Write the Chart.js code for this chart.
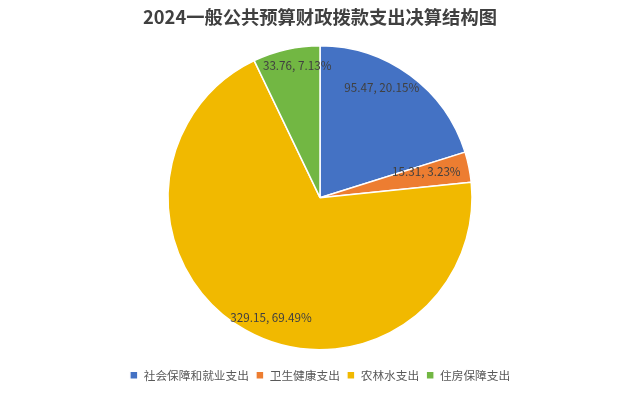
<!DOCTYPE html>
<html>
<head>
<meta charset="utf-8">
<script src="https://cdn.jsdelivr.net/npm/chart.js@4"></script>
<style>
  html,body{margin:0;padding:0;background:#fff;}
  #wrap{width:640px;height:394px;}
</style>
</head>
<body>
<div id="wrap"><canvas id="c"></canvas></div>
<script>
// ====== Data ======
const categories = ['社会保障和就业支出', '卫生健康支出', '农林水支出', '住房保障支出'];
const amounts = [95.47, 15.31, 329.15, 33.76];
const percents = ['20.15%', '3.23%', '69.49%', '7.13%'];
const colors = ['#4472C4', '#ED7D31', '#F1B900', '#72B743'];
// label placement: share of radius + angle nudge (deg, clockwise)
const labelRadius = [0.83, 0.72, 0.85, 0.88];
const labelNudge = [-7, -2, -7, 3];

const FONT = '"Noto Sans CJK SC", "Noto Sans", sans-serif';

// draw "value, pct" inside each slice
const sliceLabels = {
  id: 'sliceLabels',
  afterDatasetsDraw(chart){
    const ctx = chart.ctx;
    const meta = chart.getDatasetMeta(0);
    ctx.save();
    ctx.font = '11.7px ' + FONT;
    ctx.fillStyle = '#404040';
    ctx.textAlign = 'center';
    ctx.textBaseline = 'middle';
    meta.data.forEach((arc, i) => {
      const p = arc.getProps(['x','y','startAngle','endAngle','outerRadius'], true);
      const mid = (p.startAngle + p.endAngle) / 2 + labelNudge[i] * Math.PI / 180;
      const r = p.outerRadius * labelRadius[i];
      ctx.fillText(amounts[i] + ', ' + percents[i], p.x + Math.cos(mid) * r, p.y + Math.sin(mid) * r);
    });
    ctx.restore();
  }
};

new Chart(document.getElementById('c'), {
  type: 'pie',
  data: {
    labels: categories,
    datasets: [{
      data: amounts,
      backgroundColor: colors,
      borderColor: '#ffffff',
      borderWidth: 1.5
    }]
  },
  options: {
    responsive: true,
    maintainAspectRatio: false,
    animation: false,
    radius: 152,
    layout: { padding: { bottom: 3 } },
    plugins: {
      title: {
        display: true,
        text: '2024一般公共预算财政拨款支出决算结构图',
        color: '#404040',
        font: { size: 18.3, weight: 'bold', family: FONT },
        padding: { top: 6, bottom: 5.1 }
      },
      legend: {
        position: 'bottom',
        labels: {
          boxWidth: 8,
          boxHeight: 8,
          padding: 7,
          color: '#595959',
          font: { size: 11.7, family: FONT }
        }
      },
      tooltip: { enabled: false }
    }
  },
  plugins: [sliceLabels]
});
</script>
</body>
</html>
